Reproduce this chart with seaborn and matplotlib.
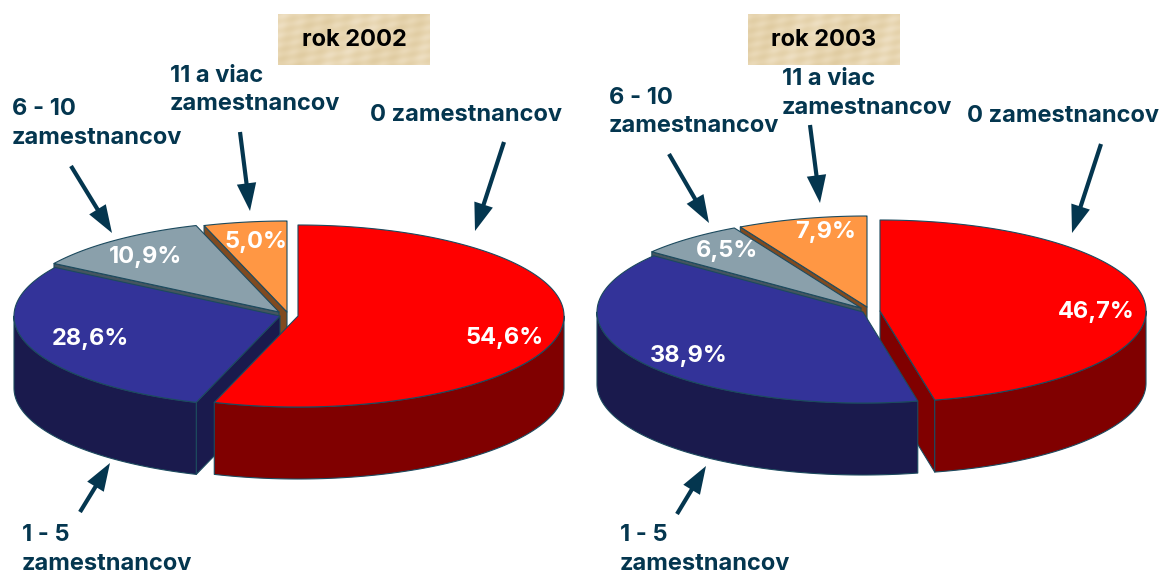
"""Two exploded 3D-look pies, share of firms by number of employees."""

import matplotlib.pyplot as plt
import numpy as np
import seaborn as sns

categories = ["0 zamestnancov", "1 - 5\nzamestnancov", "6 - 10\nzamestnancov", "11 a viac\nzamestnancov"]
shares_2002 = [54.6, 28.6, 10.9, 5.0]
shares_2003 = [46.7, 38.9, 6.5, 7.9]
value_labels_2002 = ["54,6%", "28,6%", "10,9%", "5,0%"]
value_labels_2003 = ["46,7%", "38,9%", "6,5%", "7,9%"]
titles = ["rok 2002", "rok 2003"]

INK = "#04364F"
EDGE = "#1C4A5E"
RX, RY, DEPTH = 266, 91, 72
FONT_SIZE = 17

sns.set_theme(style="white")
plt.rcParams["font.family"] = ["Inter", "DejaVu Sans"]
top_colors = sns.color_palette(["#FF0000", "#333399", "#8AA0AB", "#FF9744"])
side_colors = sns.color_palette(["#800000", "#1A1A4D", "#45555F", "#804A20"])
paper = sns.blend_palette(["#E0CCA2", "#E7D5B0", "#EEDFC2"], as_cmap=True)


def ellipse_pts(cx, cy, a):
    a = np.radians(np.asarray(a))
    return cx + RX * np.sin(a), cy - RY * np.cos(a)


def draw_slice(ax, apex, t0, t1, top, side):
    cx, cy = apex
    kw = dict(edgecolor=EDGE, linewidth=0.8, joinstyle="round")

    # cut faces, only the ones turned toward the viewer
    for t, normal in ((t0, t0 - 90), (t1, t1 + 90)):
        if -np.cos(np.radians(normal)) > 1e-6:
            ex, ey = ellipse_pts(cx, cy, [t])
            ax.fill([cx, ex[0], ex[0], cx], [cy, ey[0], ey[0] + DEPTH, cy + DEPTH], facecolor=side, **kw)

    # outer wall on the front half
    lo, hi = max(t0, 90), min(t1, 270)
    if hi > lo:
        a = np.linspace(lo, hi, 120)
        x, y = ellipse_pts(cx, cy, a)
        ax.fill(np.r_[x, x[::-1]], np.r_[y, y[::-1] + DEPTH], facecolor=side, **kw)

    a = np.linspace(t0, t1, 200)
    x, y = ellipse_pts(cx, cy, a)
    ax.fill(np.r_[cx, x], np.r_[cy, y], facecolor=top, **kw)


def draw_pie(ax, shares, apexes, order):
    edges = np.r_[0, np.cumsum(shares)] / np.sum(shares) * 360
    for i in order:
        draw_slice(ax, apexes[i], edges[i], edges[i + 1], top_colors[i], side_colors[i])


def arrow(ax, start, end):
    ax.annotate("", xy=end, xytext=start,
                arrowprops=dict(width=3, headwidth=14, headlength=20, shrink=0,
                                facecolor=INK, edgecolor=INK, linewidth=0))


def label(ax, x, y, s, line_gap=28.5):
    for k, line in enumerate(s.split("\n")):
        ax.text(x, y + k * line_gap, line, color=INK, fontsize=FONT_SIZE, fontweight="bold", ha="left", va="center")


def title_box(ax, x0, x1, s):
    # mottled parchment behind the year
    xx, yy = np.meshgrid(np.arange(x0, x1), np.arange(14, 65))
    tex = np.sin(xx * 0.23 + yy * 0.37) * np.sin(xx * 0.11 - yy * 0.29) + 0.5 * np.sin(xx * 0.07 + yy * 0.05)
    ax.imshow(tex, cmap=paper, extent=(x0, x1, 65, 14), aspect="auto", zorder=1, interpolation="bilinear")
    ax.text((x0 + x1) / 2, 40, s, color="black", fontsize=FONT_SIZE, fontweight="bold",
            ha="center", va="center", zorder=2)


def values(ax, labels, spots):
    for s, (x, y) in zip(labels, spots):
        ax.text(x, y, s, color="white", fontsize=FONT_SIZE, fontweight="bold", ha="center", va="center")


fig = plt.figure(figsize=(11.6, 5.74), dpi=100)
ax = fig.add_axes([0, 0, 1, 1])

# rok 2002
draw_pie(ax, shares_2002, [(298, 316), (280, 316), (279, 312), (287, 312)], [3, 2, 1, 0])
values(ax, value_labels_2002, [(505, 338), (90, 339), (146, 257), (256, 242)])
title_box(ax, 278, 430, titles[0])
label(ax, 370, 115, categories[0])
label(ax, 22, 535, categories[1])
label(ax, 12, 109, categories[2])
label(ax, 170, 76, categories[3])
arrow(ax, (504, 142), (475, 231))
arrow(ax, (80, 512), (110, 463))
arrow(ax, (71, 166), (112, 233))
arrow(ax, (240, 132), (250, 211))

# rok 2003
draw_pie(ax, shares_2003, [(880, 311), (863, 312), (861, 308), (867, 307)], [3, 2, 0, 1])
values(ax, value_labels_2003, [(1096, 312), (689, 356), (727, 251), (826, 232)])
title_box(ax, 748, 900, titles[1])
label(ax, 967, 116, categories[0])
label(ax, 620, 535, categories[1])
label(ax, 609, 98, categories[2])
label(ax, 782, 79, categories[3])
arrow(ax, (1101, 144), (1072, 233))
arrow(ax, (677, 514), (706, 466))
arrow(ax, (669, 154), (709, 223))
arrow(ax, (810, 125), (820, 203))

ax.set_xlim(0, 1160)
ax.set_ylim(574, 0)
ax.axis("off")

fig.savefig("out.png", dpi=100)
